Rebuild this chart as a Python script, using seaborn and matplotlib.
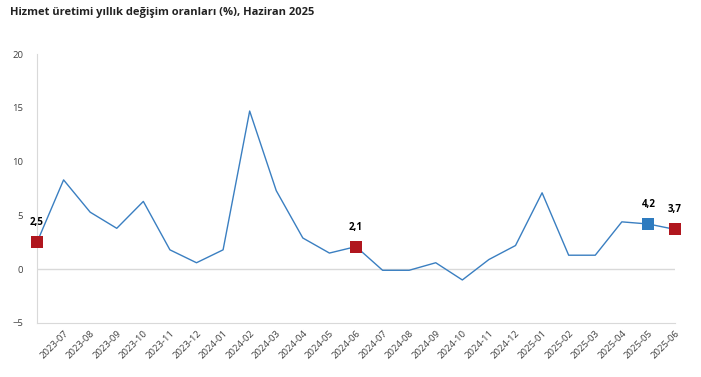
import matplotlib
matplotlib.use('Agg')
import matplotlib.pyplot as plt
import numpy as np
import pandas as pd
import seaborn as sns

AYLAR = [
    '2023-06', '2023-07', '2023-08', '2023-09', '2023-10', '2023-11', '2023-12',
    '2024-01', '2024-02', '2024-03', '2024-04', '2024-05', '2024-06',
    '2024-07', '2024-08', '2024-09', '2024-10', '2024-11', '2024-12',
    '2025-01', '2025-02', '2025-03', '2025-04', '2025-05', '2025-06',
]
DEGISIM = [
    2.5, 8.3, 5.3, 3.8, 6.3, 1.8, 0.6,
    1.8, 14.7, 7.3, 2.9, 1.5, 2.1,
    -0.1, -0.1, 0.6, -1.0, 0.9, 2.2,
    7.1, 1.3, 1.3, 4.4, 4.2, 3.7,
]
# vurgulanan aylar: kirmizi (yillik) ve mavi (onceki ay)
VURGU_KIRMIZI = ['2023-06', '2024-06', '2025-06']
VURGU_MAVI = ['2025-05']

RENK_CIZGI = '#3a7fc1'
RENK_KIRMIZI = '#b0161e'
RENK_MAVI = '#2e7bbf'

sns.set_style('white')
plt.rcParams['font.family'] = ['Open Sans', 'DejaVu Sans']

df = pd.DataFrame({'ay': AYLAR, 'deger': DEGISIM})
df['x'] = np.arange(len(df))

fig = plt.figure(figsize=(7.01, 3.77), dpi=100)
ax = fig.add_axes([37 / 701, 1 - 323 / 377, 638 / 701, 269 / 377])

ax.axhline(0, color='#d9d9d9', lw=1, zorder=1)
sns.lineplot(data=df, x='x', y='deger', color=RENK_CIZGI, lw=1, ax=ax, zorder=2)

kirmizi = df[df['ay'].isin(VURGU_KIRMIZI)]
mavi = df[df['ay'].isin(VURGU_MAVI)]
sns.scatterplot(data=kirmizi, x='x', y='deger', marker='s', s=70, color=RENK_KIRMIZI,
                edgecolor=RENK_KIRMIZI, linewidth=0, ax=ax, zorder=3, clip_on=False)
sns.scatterplot(data=mavi, x='x', y='deger', marker='s', s=70, color=RENK_MAVI,
                edgecolor=RENK_MAVI, linewidth=0, ax=ax, zorder=3, clip_on=False)

for _, satir in pd.concat([kirmizi, mavi]).iterrows():
    ax.annotate(f"{satir['deger']:.1f}".replace('.', ','), (satir['x'], satir['deger']),
                xytext=(0, 14), textcoords='offset points', ha='center', va='center',
                fontsize=7, fontweight='bold', color='black')

ax.set_xlim(0, len(df) - 1)
ax.set_ylim(-5, 20)
ax.set_yticks([-5, 0, 5, 10, 15, 20])
ax.set_xticks(df['x'][1:])
ax.set_xticklabels(df['ay'][1:], rotation=45, ha='right', rotation_mode='anchor')
ax.tick_params(axis='x', labelsize=6.8, colors='#404040', length=0, pad=4)
ax.tick_params(axis='y', labelsize=6.8, colors='#404040', length=0, pad=10)
ax.set_xlabel('')
ax.set_ylabel('')

for kenar in ['top', 'right']:
    ax.spines[kenar].set_visible(False)
ax.spines['left'].set_color('#d9d9d9')
ax.spines['bottom'].set_color('#d9d9d9')

fig.text(10 / 701, 1 - 12 / 377, 'Hizmet üretimi yıllık değişim oranları (%), Haziran 2025',
         fontsize=8, fontweight='bold', color='#222222', va='center', ha='left')

fig.savefig('out.png', dpi=100)
